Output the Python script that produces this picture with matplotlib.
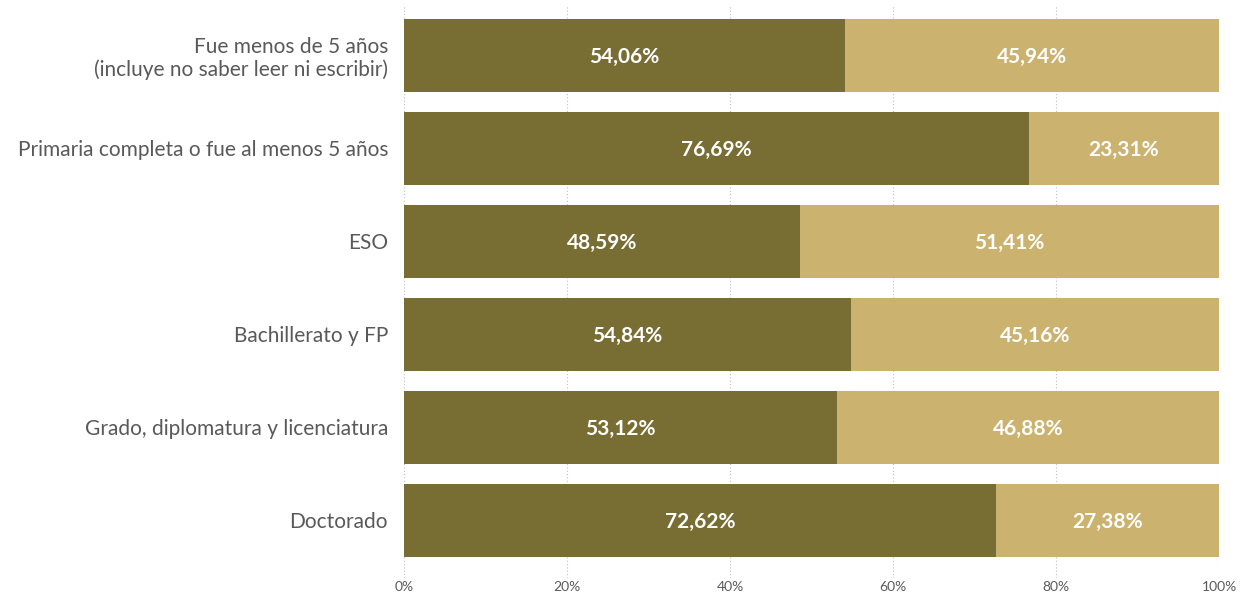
import matplotlib
matplotlib.use("Agg")
import matplotlib.pyplot as plt
from matplotlib.ticker import FixedLocator

categories = [
    "Fue menos de 5 años\n(incluye no saber leer ni escribir)",
    "Primaria completa o fue al menos 5 años",
    "ESO",
    "Bachillerato y FP",
    "Grado, diplomatura y licenciatura",
    "Doctorado",
]
serie_a = [54.06, 76.69, 48.59, 54.84, 53.12, 72.62]
serie_b = [45.94, 23.31, 51.41, 45.16, 46.88, 27.38]
xticks = [0, 20, 40, 60, 80, 100]
xticklabels = ["0%", "20%", "40%", "60%", "80%", "100%"]

dark = "#786d33"
light = "#cbb26f"
grey = "#595959"

plt.rcParams['font.family'] = ['Lato', 'DejaVu Sans']

fig = plt.figure(figsize=(12.44, 5.95), dpi=100)
ax = fig.add_axes([404/1244, 1 - 578/595, (1219-404)/1244, (578-5)/595])

y = list(range(len(categories)))
ax.barh(y, serie_a, height=0.785, color=dark, zorder=2)
ax.barh(y, serie_b, left=serie_a, height=0.785, color=light, zorder=2)

def fmt(v):
    return f"{v:.2f}%".replace(".", ",")

for i, (a, b) in enumerate(zip(serie_a, serie_b)):
    ax.text(a / 2, i + 0.02, fmt(a), ha="center", va="center", color="white",
            fontsize=15, fontweight="bold", zorder=3)
    ax.text(a + b / 2, i + 0.02, fmt(b), ha="center", va="center", color="white",
            fontsize=15, fontweight="bold", zorder=3)

ax.set_xlim(0, 100)
ax.set_ylim(5.62, -0.54)
ax.xaxis.set_major_locator(FixedLocator(xticks))
ax.set_xticklabels(xticklabels, color=grey, fontsize=10)
ax.set_yticks(y)
ax.set_yticklabels(categories, color=grey, fontsize=15, linespacing=1.12)
ax.tick_params(axis="both", length=0)
ax.tick_params(axis="y", pad=11.5)
ax.tick_params(axis="x", pad=2)
ax.grid(axis="x", color="#bfbfbf", linestyle=(0, (1, 2)), linewidth=0.8, zorder=0)
for s in ax.spines.values():
    s.set_visible(False)

fig.savefig("out.png", dpi=100)
